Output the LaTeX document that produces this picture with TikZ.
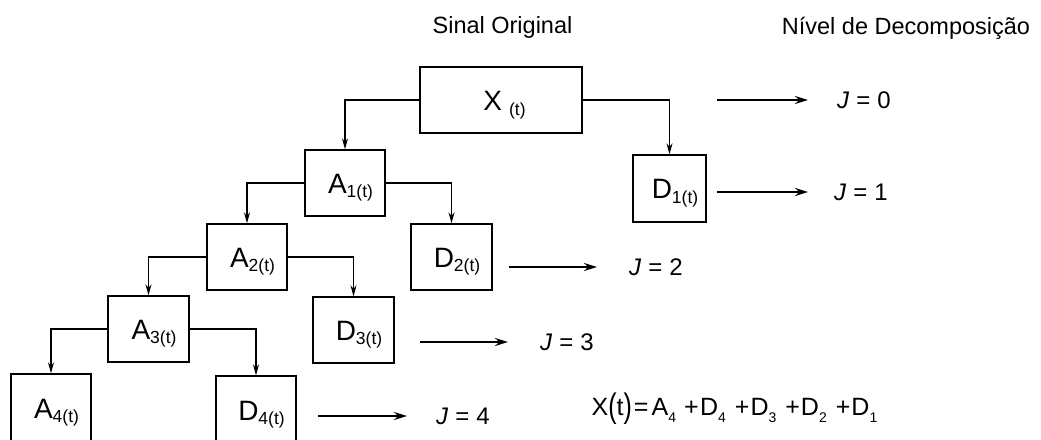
\documentclass[tikz,border=0pt]{standalone}
\usepackage{fontspec}
\setmainfont{Liberation Sans}
\usepackage{graphicx}
\usetikzlibrary{arrows.meta}
\newcommand\blab[2]{\hspace*{11pt}#1\raisebox{-4.5pt}{\fontsize{17.5}{17.5}\selectfont #2}}
\newcommand\eqsub[1]{\raisebox{-7pt}{\fontsize{14}{14}\selectfont #1}}
\newcommand\eqpar[1]{\raisebox{-2.8pt}{\scalebox{1}[1.36]{#1}}}
\begin{document}
\begin{tikzpicture}[x=1pt,y=-1pt,
  blk/.style={draw, line width=1.4pt, inner sep=0, minimum width=80pt, minimum height=66pt,
    text height=20pt, text depth=0pt, font=\fontsize{28}{28}\selectfont},
  conn/.style={line width=1.1pt, -{Stealth[length=11pt,width=6pt]}},
  lvl/.style={line width=2pt, -{Stealth[length=13pt,width=8pt]}},
  jlab/.style={anchor=west, inner sep=0, font=\fontsize{24}{24}\selectfont},
  ttl/.style={inner sep=0, font=\fontsize{23.5}{23.5}\selectfont}]
\useasboundingbox (0,0) rectangle (1041,439);
\clip (0,0) rectangle (1041,439);
% titles
\node[ttl] (so) at (502.5,27) {Sinal Original};
\node[ttl] (nd) at (906,28) {Nível de Decomposição};
% boxes
\node[blk, minimum width=162pt, minimum height=66pt] (X) at (501,100) {\hspace*{7pt}X\hspace{7pt}\raisebox{-5.5pt}{\fontsize{17.5}{17.5}\selectfont(t)}};
\node[blk] (A1) at (345,183) {\blab{A}{1(t)}};
\node[blk, minimum width=73pt, minimum height=67pt] (D1) at (669.5,188.5) {\blab{D}{1(t)}};
\node[blk] (A2) at (247,257) {\blab{A}{2(t)}};
\node[blk, minimum width=81pt] (D2) at (451.5,257) {\blab{D}{2(t)}};
\node[blk, minimum width=81pt] (A3) at (148.5,329) {\blab{A}{3(t)}};
\node[blk, minimum width=81pt] (D3) at (353.5,330) {\blab{D}{3(t)}};
\node[blk, minimum height=68pt] (A4) at (51,408) {\blab{A}{4(t)}};
\node[blk, minimum height=68pt] (D4) at (256,410) {\blab{D}{4(t)}};
% connectors
\draw[conn] (X.west) -| (A1.north);
\draw[conn] (X.east) -| (D1.north);
\draw[conn] (A1.west) -| (A2.north);
\draw[conn] (A1.east) -| (D2.north);
\draw[conn] (A2.west) -| (A3.north);
\draw[conn] (A2.east) -| (D3.north);
\draw[conn] (A3.west) -| (A4.north);
\draw[conn] (A3.east) -| (D4.north);
% level arrows
\coordinate (j0s) at (717,100); \coordinate (j0e) at (808,100);
\coordinate (j1s) at (717,192); \coordinate (j1e) at (808,192);
\coordinate (j2s) at (509,267); \coordinate (j2e) at (597,267);
\coordinate (j3s) at (420,342); \coordinate (j3e) at (508,342);
\coordinate (j4s) at (318,416); \coordinate (j4e) at (407,416);
\draw[lvl] (j0s) -- (j0e);
\draw[lvl] (j1s) -- (j1e);
\draw[lvl] (j2s) -- (j2e);
\draw[lvl] (j3s) -- (j3e);
\draw[lvl] (j4s) -- (j4e);
\node[jlab] (J0) at (837,100) {\textit{J}\hspace{7pt}=\hspace{7pt}0};
\node[jlab] (J1) at (834,192) {\textit{J}\hspace{7pt}=\hspace{7pt}1};
\node[jlab] (J2) at (629,267) {\textit{J}\hspace{7pt}=\hspace{7pt}2};
\node[jlab] (J3) at (540,342) {\textit{J}\hspace{7pt}=\hspace{7pt}3};
\node[jlab] (J4) at (436,416) {\textit{J}\hspace{7pt}=\hspace{7pt}4};
% formula
\node[anchor=base west, inner sep=0, font=\fontsize{25}{25}\selectfont] (eq) at (591.5,415)
 {X\eqpar{(}t\eqpar{)}\hspace{2pt}=\hspace{3pt}A\eqsub{4}\hspace{8pt}+\hspace{1.5pt}D\eqsub{4}\hspace{9pt}+\hspace{1pt}D\eqsub{3}\hspace{9pt}+\hspace{1pt}D\eqsub{2}\hspace{9pt}+\hspace{1pt}D\eqsub{1}};
\end{tikzpicture}
\end{document}
